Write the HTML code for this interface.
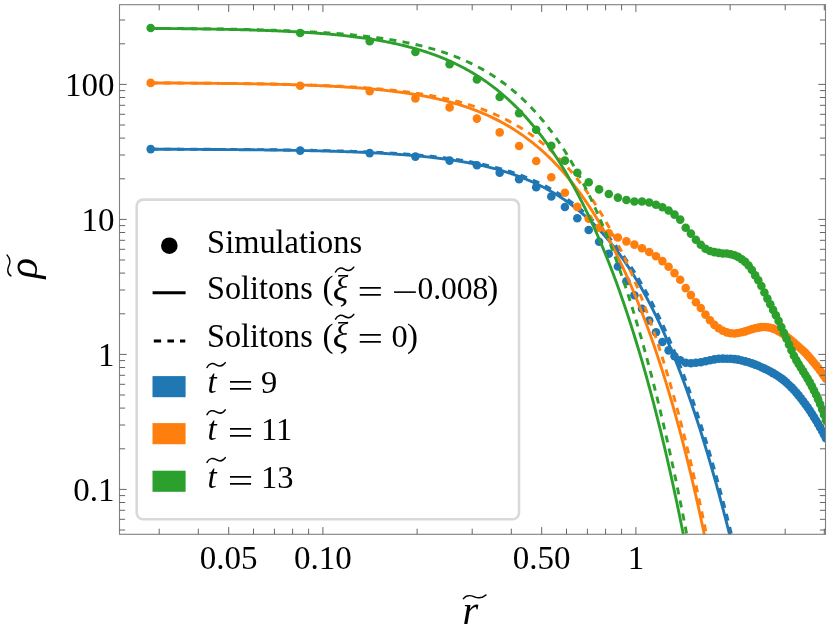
<!DOCTYPE html>
<html><head><meta charset="utf-8"><title>chart</title>
<style>html,body{margin:0;padding:0;background:#fff;}body{width:830px;height:641px;overflow:hidden;font-family:"Liberation Serif",serif;}svg{display:block;}</style></head>
<body>
<svg width="830" height="641" viewBox="0 0 830 641" font-family="'Liberation Serif', serif" style="will-change:transform">
<rect width="830" height="641" fill="#fff"/>
<defs><clipPath id="cp"><rect x="119.5" y="4.7" width="706.0" height="529.5999999999999"/></clipPath></defs>
<g clip-path="url(#cp)">
<g fill="#1f77b4"><circle cx="150.7" cy="149.1" r="4.3"/><circle cx="300.2" cy="150.6" r="4.3"/><circle cx="369.7" cy="153.1" r="4.3"/><circle cx="415.4" cy="156.6" r="4.3"/><circle cx="449.6" cy="160.6" r="4.3"/><circle cx="476.9" cy="165.3" r="4.3"/><circle cx="499.7" cy="172.7" r="4.3"/><circle cx="519.1" cy="179.2" r="4.3"/><circle cx="536.2" cy="187.3" r="4.3"/><circle cx="551.3" cy="196.5" r="4.3"/><circle cx="564.9" cy="207.0" r="4.3"/><circle cx="577.3" cy="218.3" r="4.3"/><circle cx="588.7" cy="230.0" r="4.3"/><circle cx="599.1" cy="241.8" r="4.3"/><circle cx="608.8" cy="253.8" r="4.3"/><circle cx="617.9" cy="266.5" r="4.3"/><circle cx="626.4" cy="281.2" r="4.3"/><circle cx="634.4" cy="295.2" r="4.3"/><circle cx="642.0" cy="308.7" r="4.3"/><circle cx="649.2" cy="320.5" r="4.3"/><circle cx="656.0" cy="332.2" r="4.3"/><circle cx="662.4" cy="342.0" r="4.3"/><circle cx="668.6" cy="350.4" r="4.3"/><circle cx="674.5" cy="356.2" r="4.3"/><circle cx="680.2" cy="360.2" r="4.3"/><circle cx="685.7" cy="362.7" r="4.3"/><circle cx="690.9" cy="363.2" r="4.3"/><circle cx="695.9" cy="362.8" r="4.3"/><circle cx="700.8" cy="362.2" r="4.3"/><circle cx="705.5" cy="361.2" r="4.3"/><circle cx="710.0" cy="360.2" r="4.3"/><circle cx="714.4" cy="359.4" r="4.3"/><circle cx="718.7" cy="358.8" r="4.3"/><circle cx="722.8" cy="358.6" r="4.3"/><circle cx="726.8" cy="358.7" r="4.3"/><circle cx="730.7" cy="358.8" r="4.3"/><circle cx="734.5" cy="359.1" r="4.3"/><circle cx="738.1" cy="359.6" r="4.3"/><circle cx="741.7" cy="360.5" r="4.3"/><circle cx="745.2" cy="361.4" r="4.3"/><circle cx="748.6" cy="362.3" r="4.3"/><circle cx="751.9" cy="363.4" r="4.3"/><circle cx="755.2" cy="364.6" r="4.3"/><circle cx="758.3" cy="365.8" r="4.3"/><circle cx="761.4" cy="367.2" r="4.3"/><circle cx="764.4" cy="368.6" r="4.3"/><circle cx="767.4" cy="370.0" r="4.3"/><circle cx="770.3" cy="371.5" r="4.3"/><circle cx="773.1" cy="373.1" r="4.3"/><circle cx="775.9" cy="374.7" r="4.3"/><circle cx="778.6" cy="376.5" r="4.3"/><circle cx="781.3" cy="378.4" r="4.3"/><circle cx="783.9" cy="380.4" r="4.3"/><circle cx="786.5" cy="382.6" r="4.3"/><circle cx="789.0" cy="385.0" r="4.3"/><circle cx="791.5" cy="387.4" r="4.3"/><circle cx="793.9" cy="389.9" r="4.3"/><circle cx="796.3" cy="392.6" r="4.3"/><circle cx="798.6" cy="395.4" r="4.3"/><circle cx="800.9" cy="398.3" r="4.3"/><circle cx="803.2" cy="401.2" r="4.3"/><circle cx="805.4" cy="404.2" r="4.3"/><circle cx="807.6" cy="407.3" r="4.3"/><circle cx="809.8" cy="410.5" r="4.3"/><circle cx="811.9" cy="413.8" r="4.3"/><circle cx="814.0" cy="417.1" r="4.3"/><circle cx="816.1" cy="420.5" r="4.3"/><circle cx="818.1" cy="423.9" r="4.3"/><circle cx="820.1" cy="427.4" r="4.3"/><circle cx="822.1" cy="430.9" r="4.3"/><circle cx="824.0" cy="434.5" r="4.3"/><circle cx="825.9" cy="438.2" r="4.3"/></g>
<path d="M150.5,149.13 L151.5,149.13 L152.5,149.13 L153.5,149.13 L154.5,149.13 L155.5,149.14 L156.5,149.14 L157.5,149.14 L158.5,149.14 L159.5,149.14 L160.5,149.15 L161.5,149.15 L162.5,149.15 L163.5,149.15 L164.5,149.15 L165.5,149.16 L166.5,149.16 L167.5,149.16 L168.5,149.16 L169.5,149.17 L170.5,149.17 L171.5,149.17 L172.5,149.17 L173.5,149.18 L174.5,149.18 L175.5,149.18 L176.5,149.18 L177.5,149.19 L178.5,149.19 L179.5,149.19 L180.5,149.19 L181.5,149.20 L182.5,149.20 L183.5,149.20 L184.5,149.21 L185.5,149.21 L186.5,149.21 L187.5,149.22 L188.5,149.22 L189.5,149.22 L190.5,149.22 L191.5,149.23 L192.5,149.23 L193.5,149.23 L194.5,149.24 L195.5,149.24 L196.5,149.24 L197.5,149.25 L198.5,149.25 L199.5,149.26 L200.5,149.26 L201.5,149.26 L202.5,149.27 L203.5,149.27 L204.5,149.27 L205.5,149.28 L206.5,149.28 L207.5,149.29 L208.5,149.29 L209.5,149.30 L210.5,149.30 L211.5,149.30 L212.5,149.31 L213.5,149.31 L214.5,149.32 L215.5,149.32 L216.5,149.33 L217.5,149.33 L218.5,149.34 L219.5,149.34 L220.5,149.35 L221.5,149.35 L222.5,149.36 L223.5,149.36 L224.5,149.37 L225.5,149.37 L226.5,149.38 L227.5,149.38 L228.5,149.39 L229.5,149.39 L230.5,149.40 L231.5,149.41 L232.5,149.41 L233.5,149.42 L234.5,149.42 L235.5,149.43 L236.5,149.44 L237.5,149.44 L238.5,149.45 L239.5,149.46 L240.5,149.46 L241.5,149.47 L242.5,149.48 L243.5,149.48 L244.5,149.49 L245.5,149.50 L246.5,149.50 L247.5,149.51 L248.5,149.52 L249.5,149.53 L250.5,149.53 L251.5,149.54 L252.5,149.55 L253.5,149.56 L254.5,149.57 L255.5,149.57 L256.5,149.58 L257.5,149.59 L258.5,149.60 L259.5,149.61 L260.5,149.62 L261.5,149.63 L262.5,149.64 L263.5,149.65 L264.5,149.65 L265.5,149.66 L266.5,149.67 L267.5,149.68 L268.5,149.69 L269.5,149.70 L270.5,149.71 L271.5,149.72 L272.5,149.74 L273.5,149.75 L274.5,149.76 L275.5,149.77 L276.5,149.78 L277.5,149.79 L278.5,149.80 L279.5,149.81 L280.5,149.83 L281.5,149.84 L282.5,149.85 L283.5,149.86 L284.5,149.87 L285.5,149.89 L286.5,149.90 L287.5,149.91 L288.5,149.93 L289.5,149.94 L290.5,149.95 L291.5,149.97 L292.5,149.98 L293.5,150.00 L294.5,150.01 L295.5,150.03 L296.5,150.04 L297.5,150.06 L298.5,150.07 L299.5,150.09 L300.5,150.10 L301.5,150.12 L302.5,150.13 L303.5,150.15 L304.5,150.17 L305.5,150.18 L306.5,150.20 L307.5,150.22 L308.5,150.24 L309.5,150.26 L310.5,150.27 L311.5,150.29 L312.5,150.31 L313.5,150.33 L314.5,150.35 L315.5,150.37 L316.5,150.39 L317.5,150.41 L318.5,150.43 L319.5,150.45 L320.5,150.47 L321.5,150.49 L322.5,150.52 L323.5,150.54 L324.5,150.56 L325.5,150.58 L326.5,150.61 L327.5,150.63 L328.5,150.65 L329.5,150.68 L330.5,150.70 L331.5,150.73 L332.5,150.75 L333.5,150.78 L334.5,150.80 L335.5,150.83 L336.5,150.86 L337.5,150.88 L338.5,150.91 L339.5,150.94 L340.5,150.97 L341.5,150.99 L342.5,151.02 L343.5,151.05 L344.5,151.08 L345.5,151.11 L346.5,151.14 L347.5,151.18 L348.5,151.21 L349.5,151.24 L350.5,151.27 L351.5,151.30 L352.5,151.34 L353.5,151.37 L354.5,151.41 L355.5,151.44 L356.5,151.48 L357.5,151.51 L358.5,151.55 L359.5,151.59 L360.5,151.62 L361.5,151.66 L362.5,151.70 L363.5,151.74 L364.5,151.78 L365.5,151.82 L366.5,151.86 L367.5,151.90 L368.5,151.95 L369.5,151.99 L370.5,152.03 L371.5,152.08 L372.5,152.12 L373.5,152.17 L374.5,152.21 L375.5,152.26 L376.5,152.31 L377.5,152.36 L378.5,152.40 L379.5,152.45 L380.5,152.50 L381.5,152.56 L382.5,152.61 L383.5,152.66 L384.5,152.71 L385.5,152.77 L386.5,152.82 L387.5,152.88 L388.5,152.93 L389.5,152.99 L390.5,153.05 L391.5,153.11 L392.5,153.17 L393.5,153.23 L394.5,153.29 L395.5,153.35 L396.5,153.41 L397.5,153.48 L398.5,153.54 L399.5,153.61 L400.5,153.68 L401.5,153.74 L402.5,153.81 L403.5,153.88 L404.5,153.95 L405.5,154.03 L406.5,154.10 L407.5,154.17 L408.5,154.25 L409.5,154.33 L410.5,154.40 L411.5,154.48 L412.5,154.56 L413.5,154.64 L414.5,154.72 L415.5,154.81 L416.5,154.89 L417.5,154.98 L418.5,155.06 L419.5,155.15 L420.5,155.24 L421.5,155.33 L422.5,155.42 L423.5,155.52 L424.5,155.61 L425.5,155.71 L426.5,155.80 L427.5,155.90 L428.5,156.00 L429.5,156.10 L430.5,156.21 L431.5,156.31 L432.5,156.42 L433.5,156.52 L434.5,156.63 L435.5,156.74 L436.5,156.86 L437.5,156.97 L438.5,157.09 L439.5,157.20 L440.5,157.32 L441.5,157.44 L442.5,157.56 L443.5,157.69 L444.5,157.81 L445.5,157.94 L446.5,158.07 L447.5,158.20 L448.5,158.34 L449.5,158.47 L450.5,158.61 L451.5,158.75 L452.5,158.89 L453.5,159.03 L454.5,159.18 L455.5,159.32 L456.5,159.47 L457.5,159.62 L458.5,159.78 L459.5,159.93 L460.5,160.09 L461.5,160.25 L462.5,160.41 L463.5,160.58 L464.5,160.75 L465.5,160.91 L466.5,161.09 L467.5,161.26 L468.5,161.44 L469.5,161.62 L470.5,161.80 L471.5,161.98 L472.5,162.17 L473.5,162.36 L474.5,162.55 L475.5,162.75 L476.5,162.95 L477.5,163.15 L478.5,163.35 L479.5,163.56 L480.5,163.77 L481.5,163.98 L482.5,164.20 L483.5,164.41 L484.5,164.64 L485.5,164.86 L486.5,165.09 L487.5,165.32 L488.5,165.55 L489.5,165.79 L490.5,166.03 L491.5,166.28 L492.5,166.53 L493.5,166.78 L494.5,167.03 L495.5,167.29 L496.5,167.55 L497.5,167.82 L498.5,168.09 L499.5,168.36 L500.5,168.64 L501.5,168.92 L502.5,169.21 L503.5,169.49 L504.5,169.79 L505.5,170.08 L506.5,170.39 L507.5,170.69 L508.5,171.00 L509.5,171.32 L510.5,171.63 L511.5,171.96 L512.5,172.29 L513.5,172.62 L514.5,172.95 L515.5,173.30 L516.5,173.64 L517.5,173.99 L518.5,174.35 L519.5,174.71 L520.5,175.08 L521.5,175.45 L522.5,175.82 L523.5,176.20 L524.5,176.59 L525.5,176.98 L526.5,177.38 L527.5,177.78 L528.5,178.19 L529.5,178.60 L530.5,179.02 L531.5,179.45 L532.5,179.88 L533.5,180.32 L534.5,180.76 L535.5,181.21 L536.5,181.66 L537.5,182.13 L538.5,182.59 L539.5,183.07 L540.5,183.55 L541.5,184.04 L542.5,184.53 L543.5,185.03 L544.5,185.54 L545.5,186.05 L546.5,186.57 L547.5,187.10 L548.5,187.64 L549.5,188.18 L550.5,188.73 L551.5,189.28 L552.5,189.85 L553.5,190.42 L554.5,191.00 L555.5,191.59 L556.5,192.18 L557.5,192.79 L558.5,193.40 L559.5,194.02 L560.5,194.65 L561.5,195.28 L562.5,195.93 L563.5,196.58 L564.5,197.24 L565.5,197.91 L566.5,198.59 L567.5,199.28 L568.5,199.98 L569.5,200.69 L570.5,201.40 L571.5,202.13 L572.5,202.86 L573.5,203.61 L574.5,204.36 L575.5,205.13 L576.5,205.90 L577.5,206.68 L578.5,207.48 L579.5,208.28 L580.5,209.10 L581.5,209.92 L582.5,210.76 L583.5,211.61 L584.5,212.46 L585.5,213.33 L586.5,214.21 L587.5,215.10 L588.5,216.01 L589.5,216.92 L590.5,217.85 L591.5,218.78 L592.5,219.73 L593.5,220.69 L594.5,221.67 L595.5,222.65 L596.5,223.65 L597.5,224.66 L598.5,225.68 L599.5,226.72 L600.5,227.77 L601.5,228.83 L602.5,229.91 L603.5,230.99 L604.5,232.10 L605.5,233.21 L606.5,234.34 L607.5,235.48 L608.5,236.64 L609.5,237.81 L610.5,239.00 L611.5,240.20 L612.5,241.41 L613.5,242.64 L614.5,243.89 L615.5,245.15 L616.5,246.42 L617.5,247.71 L618.5,249.01 L619.5,250.34 L620.5,251.67 L621.5,253.02 L622.5,254.39 L623.5,255.78 L624.5,257.18 L625.5,258.60 L626.5,260.03 L627.5,261.48 L628.5,262.95 L629.5,264.43 L630.5,265.93 L631.5,267.45 L632.5,268.99 L633.5,270.55 L634.5,272.12 L635.5,273.71 L636.5,275.32 L637.5,276.95 L638.5,278.59 L639.5,280.25 L640.5,281.94 L641.5,283.64 L642.5,285.36 L643.5,287.10 L644.5,288.86 L645.5,290.64 L646.5,292.44 L647.5,294.26 L648.5,296.10 L649.5,297.96 L650.5,299.84 L651.5,301.74 L652.5,303.66 L653.5,305.60 L654.5,307.56 L655.5,309.55 L656.5,311.55 L657.5,313.58 L658.5,315.63 L659.5,317.70 L660.5,319.79 L661.5,321.90 L662.5,324.04 L663.5,326.20 L664.5,328.38 L665.5,330.58 L666.5,332.81 L667.5,335.06 L668.5,337.33 L669.5,339.63 L670.5,341.95 L671.5,344.30 L672.5,346.66 L673.5,349.06 L674.5,351.47 L675.5,353.91 L676.5,356.38 L677.5,358.87 L678.5,361.38 L679.5,363.92 L680.5,366.49 L681.5,369.08 L682.5,371.69 L683.5,374.33 L684.5,377.00 L685.5,379.69 L686.5,382.41 L687.5,385.16 L688.5,387.93 L689.5,390.73 L690.5,393.55 L691.5,396.41 L692.5,399.29 L693.5,402.19 L694.5,405.13 L695.5,408.09 L696.5,411.08 L697.5,414.09 L698.5,417.14 L699.5,420.21 L700.5,423.31 L701.5,426.44 L702.5,429.60 L703.5,432.79 L704.5,436.01 L705.5,439.25 L706.5,442.53 L707.5,445.83 L708.5,449.16 L709.5,452.53 L710.5,455.92 L711.5,459.35 L712.5,462.80 L713.5,466.29 L714.5,469.80 L715.5,473.35 L716.5,476.93 L717.5,480.53 L718.5,484.17 L719.5,487.85 L720.5,491.55 L721.5,495.28 L722.5,499.05 L723.5,502.85 L724.5,506.68 L725.5,510.55 L726.5,514.44 L727.5,518.37 L728.5,522.34 L729.5,526.33 L730.5,530.36 L731.5,534.43 L732.5,538.52" fill="none" stroke="#1f77b4" stroke-width="2.9" stroke-dasharray="7 6.3" stroke-linejoin="round"/>
<path d="M150.5,149.23 L151.5,149.23 L152.5,149.23 L153.5,149.24 L154.5,149.24 L155.5,149.24 L156.5,149.25 L157.5,149.25 L158.5,149.25 L159.5,149.25 L160.5,149.26 L161.5,149.26 L162.5,149.26 L163.5,149.27 L164.5,149.27 L165.5,149.27 L166.5,149.28 L167.5,149.28 L168.5,149.28 L169.5,149.29 L170.5,149.29 L171.5,149.29 L172.5,149.30 L173.5,149.30 L174.5,149.31 L175.5,149.31 L176.5,149.31 L177.5,149.32 L178.5,149.32 L179.5,149.32 L180.5,149.33 L181.5,149.33 L182.5,149.34 L183.5,149.34 L184.5,149.34 L185.5,149.35 L186.5,149.35 L187.5,149.36 L188.5,149.36 L189.5,149.37 L190.5,149.37 L191.5,149.38 L192.5,149.38 L193.5,149.38 L194.5,149.39 L195.5,149.39 L196.5,149.40 L197.5,149.40 L198.5,149.41 L199.5,149.41 L200.5,149.42 L201.5,149.42 L202.5,149.43 L203.5,149.44 L204.5,149.44 L205.5,149.45 L206.5,149.45 L207.5,149.46 L208.5,149.46 L209.5,149.47 L210.5,149.47 L211.5,149.48 L212.5,149.49 L213.5,149.49 L214.5,149.50 L215.5,149.50 L216.5,149.51 L217.5,149.52 L218.5,149.52 L219.5,149.53 L220.5,149.54 L221.5,149.54 L222.5,149.55 L223.5,149.56 L224.5,149.56 L225.5,149.57 L226.5,149.58 L227.5,149.59 L228.5,149.59 L229.5,149.60 L230.5,149.61 L231.5,149.62 L232.5,149.62 L233.5,149.63 L234.5,149.64 L235.5,149.65 L236.5,149.66 L237.5,149.66 L238.5,149.67 L239.5,149.68 L240.5,149.69 L241.5,149.70 L242.5,149.71 L243.5,149.72 L244.5,149.72 L245.5,149.73 L246.5,149.74 L247.5,149.75 L248.5,149.76 L249.5,149.77 L250.5,149.78 L251.5,149.79 L252.5,149.80 L253.5,149.81 L254.5,149.82 L255.5,149.83 L256.5,149.84 L257.5,149.85 L258.5,149.86 L259.5,149.88 L260.5,149.89 L261.5,149.90 L262.5,149.91 L263.5,149.92 L264.5,149.93 L265.5,149.95 L266.5,149.96 L267.5,149.97 L268.5,149.98 L269.5,149.99 L270.5,150.01 L271.5,150.02 L272.5,150.03 L273.5,150.05 L274.5,150.06 L275.5,150.07 L276.5,150.09 L277.5,150.10 L278.5,150.12 L279.5,150.13 L280.5,150.14 L281.5,150.16 L282.5,150.17 L283.5,150.19 L284.5,150.20 L285.5,150.22 L286.5,150.24 L287.5,150.25 L288.5,150.27 L289.5,150.28 L290.5,150.30 L291.5,150.32 L292.5,150.33 L293.5,150.35 L294.5,150.37 L295.5,150.39 L296.5,150.40 L297.5,150.42 L298.5,150.44 L299.5,150.46 L300.5,150.48 L301.5,150.50 L302.5,150.52 L303.5,150.54 L304.5,150.56 L305.5,150.58 L306.5,150.60 L307.5,150.62 L308.5,150.64 L309.5,150.66 L310.5,150.68 L311.5,150.71 L312.5,150.73 L313.5,150.75 L314.5,150.77 L315.5,150.80 L316.5,150.82 L317.5,150.84 L318.5,150.87 L319.5,150.89 L320.5,150.92 L321.5,150.94 L322.5,150.97 L323.5,150.99 L324.5,151.02 L325.5,151.05 L326.5,151.07 L327.5,151.10 L328.5,151.13 L329.5,151.16 L330.5,151.18 L331.5,151.21 L332.5,151.24 L333.5,151.27 L334.5,151.30 L335.5,151.33 L336.5,151.36 L337.5,151.39 L338.5,151.42 L339.5,151.46 L340.5,151.49 L341.5,151.52 L342.5,151.55 L343.5,151.59 L344.5,151.62 L345.5,151.66 L346.5,151.69 L347.5,151.73 L348.5,151.76 L349.5,151.80 L350.5,151.84 L351.5,151.88 L352.5,151.91 L353.5,151.95 L354.5,151.99 L355.5,152.03 L356.5,152.07 L357.5,152.11 L358.5,152.15 L359.5,152.20 L360.5,152.24 L361.5,152.28 L362.5,152.32 L363.5,152.37 L364.5,152.41 L365.5,152.46 L366.5,152.51 L367.5,152.55 L368.5,152.60 L369.5,152.65 L370.5,152.70 L371.5,152.75 L372.5,152.80 L373.5,152.85 L374.5,152.90 L375.5,152.95 L376.5,153.00 L377.5,153.06 L378.5,153.11 L379.5,153.17 L380.5,153.22 L381.5,153.28 L382.5,153.34 L383.5,153.39 L384.5,153.45 L385.5,153.51 L386.5,153.57 L387.5,153.63 L388.5,153.70 L389.5,153.76 L390.5,153.82 L391.5,153.89 L392.5,153.95 L393.5,154.02 L394.5,154.09 L395.5,154.16 L396.5,154.23 L397.5,154.30 L398.5,154.37 L399.5,154.44 L400.5,154.51 L401.5,154.59 L402.5,154.66 L403.5,154.74 L404.5,154.82 L405.5,154.89 L406.5,154.97 L407.5,155.05 L408.5,155.14 L409.5,155.22 L410.5,155.30 L411.5,155.39 L412.5,155.47 L413.5,155.56 L414.5,155.65 L415.5,155.74 L416.5,155.83 L417.5,155.93 L418.5,156.02 L419.5,156.11 L420.5,156.21 L421.5,156.31 L422.5,156.41 L423.5,156.51 L424.5,156.61 L425.5,156.71 L426.5,156.82 L427.5,156.92 L428.5,157.03 L429.5,157.14 L430.5,157.25 L431.5,157.36 L432.5,157.48 L433.5,157.59 L434.5,157.71 L435.5,157.83 L436.5,157.95 L437.5,158.07 L438.5,158.19 L439.5,158.32 L440.5,158.44 L441.5,158.57 L442.5,158.70 L443.5,158.83 L444.5,158.97 L445.5,159.10 L446.5,159.24 L447.5,159.38 L448.5,159.52 L449.5,159.67 L450.5,159.81 L451.5,159.96 L452.5,160.11 L453.5,160.26 L454.5,160.41 L455.5,160.57 L456.5,160.73 L457.5,160.89 L458.5,161.05 L459.5,161.22 L460.5,161.38 L461.5,161.55 L462.5,161.72 L463.5,161.90 L464.5,162.07 L465.5,162.25 L466.5,162.43 L467.5,162.62 L468.5,162.80 L469.5,162.99 L470.5,163.18 L471.5,163.38 L472.5,163.57 L473.5,163.77 L474.5,163.98 L475.5,164.18 L476.5,164.39 L477.5,164.60 L478.5,164.81 L479.5,165.03 L480.5,165.25 L481.5,165.47 L482.5,165.70 L483.5,165.93 L484.5,166.16 L485.5,166.39 L486.5,166.63 L487.5,166.87 L488.5,167.12 L489.5,167.37 L490.5,167.62 L491.5,167.87 L492.5,168.13 L493.5,168.39 L494.5,168.66 L495.5,168.93 L496.5,169.20 L497.5,169.48 L498.5,169.76 L499.5,170.04 L500.5,170.33 L501.5,170.63 L502.5,170.92 L503.5,171.22 L504.5,171.53 L505.5,171.84 L506.5,172.15 L507.5,172.47 L508.5,172.79 L509.5,173.11 L510.5,173.44 L511.5,173.78 L512.5,174.12 L513.5,174.46 L514.5,174.81 L515.5,175.16 L516.5,175.52 L517.5,175.89 L518.5,176.25 L519.5,176.63 L520.5,177.01 L521.5,177.39 L522.5,177.78 L523.5,178.17 L524.5,178.57 L525.5,178.98 L526.5,179.39 L527.5,179.80 L528.5,180.22 L529.5,180.65 L530.5,181.08 L531.5,181.52 L532.5,181.97 L533.5,182.42 L534.5,182.87 L535.5,183.34 L536.5,183.81 L537.5,184.28 L538.5,184.76 L539.5,185.25 L540.5,185.75 L541.5,186.25 L542.5,186.76 L543.5,187.27 L544.5,187.79 L545.5,188.32 L546.5,188.86 L547.5,189.40 L548.5,189.95 L549.5,190.51 L550.5,191.07 L551.5,191.65 L552.5,192.23 L553.5,192.82 L554.5,193.41 L555.5,194.02 L556.5,194.63 L557.5,195.25 L558.5,195.87 L559.5,196.51 L560.5,197.16 L561.5,197.81 L562.5,198.47 L563.5,199.14 L564.5,199.82 L565.5,200.51 L566.5,201.21 L567.5,201.91 L568.5,202.63 L569.5,203.35 L570.5,204.09 L571.5,204.83 L572.5,205.58 L573.5,206.35 L574.5,207.12 L575.5,207.90 L576.5,208.70 L577.5,209.50 L578.5,210.32 L579.5,211.14 L580.5,211.98 L581.5,212.82 L582.5,213.68 L583.5,214.55 L584.5,215.43 L585.5,216.32 L586.5,217.22 L587.5,218.13 L588.5,219.05 L589.5,219.99 L590.5,220.94 L591.5,221.90 L592.5,222.87 L593.5,223.86 L594.5,224.85 L595.5,225.86 L596.5,226.88 L597.5,227.92 L598.5,228.97 L599.5,230.03 L600.5,231.10 L601.5,232.19 L602.5,233.29 L603.5,234.41 L604.5,235.53 L605.5,236.68 L606.5,237.83 L607.5,239.00 L608.5,240.19 L609.5,241.39 L610.5,242.60 L611.5,243.83 L612.5,245.08 L613.5,246.34 L614.5,247.61 L615.5,248.90 L616.5,250.20 L617.5,251.53 L618.5,252.86 L619.5,254.22 L620.5,255.58 L621.5,256.97 L622.5,258.37 L623.5,259.79 L624.5,261.22 L625.5,262.68 L626.5,264.14 L627.5,265.63 L628.5,267.13 L629.5,268.66 L630.5,270.19 L631.5,271.75 L632.5,273.33 L633.5,274.92 L634.5,276.53 L635.5,278.16 L636.5,279.81 L637.5,281.47 L638.5,283.16 L639.5,284.86 L640.5,286.59 L641.5,288.33 L642.5,290.10 L643.5,291.88 L644.5,293.68 L645.5,295.50 L646.5,297.35 L647.5,299.21 L648.5,301.09 L649.5,303.00 L650.5,304.92 L651.5,306.87 L652.5,308.84 L653.5,310.83 L654.5,312.84 L655.5,314.87 L656.5,316.92 L657.5,319.00 L658.5,321.09 L659.5,323.21 L660.5,325.36 L661.5,327.52 L662.5,329.71 L663.5,331.92 L664.5,334.15 L665.5,336.40 L666.5,338.68 L667.5,340.99 L668.5,343.31 L669.5,345.66 L670.5,348.03 L671.5,350.43 L672.5,352.85 L673.5,355.30 L674.5,357.76 L675.5,360.26 L676.5,362.78 L677.5,365.32 L678.5,367.89 L679.5,370.48 L680.5,373.10 L681.5,375.74 L682.5,378.41 L683.5,381.10 L684.5,383.82 L685.5,386.57 L686.5,389.34 L687.5,392.13 L688.5,394.96 L689.5,397.80 L690.5,400.68 L691.5,403.58 L692.5,406.51 L693.5,409.46 L694.5,412.44 L695.5,415.45 L696.5,418.48 L697.5,421.54 L698.5,424.63 L699.5,427.75 L700.5,430.89 L701.5,434.06 L702.5,437.26 L703.5,440.48 L704.5,443.73 L705.5,447.01 L706.5,450.32 L707.5,453.65 L708.5,457.01 L709.5,460.40 L710.5,463.82 L711.5,467.27 L712.5,470.74 L713.5,474.24 L714.5,477.77 L715.5,481.33 L716.5,484.92 L717.5,488.53 L718.5,492.18 L719.5,495.85 L720.5,499.55 L721.5,503.28 L722.5,507.03 L723.5,510.82 L724.5,514.63 L725.5,518.48 L726.5,522.35 L727.5,526.25 L728.5,530.17 L729.5,534.13 L730.5,538.12" fill="none" stroke="#1f77b4" stroke-width="2.9" stroke-linejoin="round"/>
<g fill="#ff7f0e"><circle cx="150.7" cy="82.9" r="4.3"/><circle cx="300.2" cy="85.7" r="4.3"/><circle cx="369.7" cy="91.1" r="4.3"/><circle cx="415.4" cy="98.4" r="4.3"/><circle cx="449.6" cy="107.4" r="4.3"/><circle cx="476.9" cy="118.6" r="4.3"/><circle cx="499.7" cy="132.4" r="4.3"/><circle cx="519.1" cy="146.0" r="4.3"/><circle cx="536.2" cy="161.0" r="4.3"/><circle cx="551.3" cy="177.2" r="4.3"/><circle cx="564.9" cy="192.7" r="4.3"/><circle cx="577.3" cy="206.9" r="4.3"/><circle cx="588.7" cy="218.6" r="4.3"/><circle cx="599.1" cy="227.7" r="4.3"/><circle cx="608.8" cy="233.4" r="4.3"/><circle cx="617.9" cy="237.5" r="4.3"/><circle cx="626.4" cy="241.4" r="4.3"/><circle cx="634.4" cy="244.6" r="4.3"/><circle cx="642.0" cy="248.2" r="4.3"/><circle cx="649.2" cy="252.0" r="4.3"/><circle cx="656.0" cy="256.2" r="4.3"/><circle cx="662.4" cy="261.1" r="4.3"/><circle cx="668.6" cy="266.8" r="4.3"/><circle cx="674.5" cy="273.1" r="4.3"/><circle cx="680.2" cy="279.8" r="4.3"/><circle cx="685.7" cy="288.1" r="4.3"/><circle cx="690.9" cy="295.1" r="4.3"/><circle cx="695.9" cy="302.2" r="4.3"/><circle cx="700.8" cy="308.0" r="4.3"/><circle cx="705.5" cy="314.6" r="4.3"/><circle cx="710.0" cy="320.2" r="4.3"/><circle cx="714.4" cy="324.9" r="4.3"/><circle cx="718.7" cy="328.3" r="4.3"/><circle cx="722.8" cy="330.7" r="4.3"/><circle cx="726.8" cy="332.4" r="4.3"/><circle cx="730.7" cy="333.2" r="4.3"/><circle cx="734.5" cy="333.5" r="4.3"/><circle cx="738.1" cy="333.0" r="4.3"/><circle cx="741.7" cy="332.3" r="4.3"/><circle cx="745.2" cy="331.4" r="4.3"/><circle cx="748.6" cy="330.2" r="4.3"/><circle cx="751.9" cy="329.1" r="4.3"/><circle cx="755.2" cy="328.3" r="4.3"/><circle cx="758.3" cy="327.6" r="4.3"/><circle cx="761.4" cy="327.1" r="4.3"/><circle cx="764.4" cy="327.0" r="4.3"/><circle cx="767.4" cy="327.3" r="4.3"/><circle cx="770.3" cy="327.7" r="4.3"/><circle cx="773.1" cy="328.6" r="4.3"/><circle cx="775.9" cy="329.7" r="4.3"/><circle cx="778.6" cy="331.1" r="4.3"/><circle cx="781.3" cy="332.7" r="4.3"/><circle cx="783.9" cy="334.6" r="4.3"/><circle cx="786.5" cy="336.5" r="4.3"/><circle cx="789.0" cy="338.5" r="4.3"/><circle cx="791.5" cy="340.5" r="4.3"/><circle cx="793.9" cy="342.6" r="4.3"/><circle cx="796.3" cy="344.8" r="4.3"/><circle cx="798.6" cy="346.8" r="4.3"/><circle cx="800.9" cy="348.8" r="4.3"/><circle cx="803.2" cy="350.8" r="4.3"/><circle cx="805.4" cy="352.9" r="4.3"/><circle cx="807.6" cy="355.3" r="4.3"/><circle cx="809.8" cy="357.7" r="4.3"/><circle cx="811.9" cy="360.2" r="4.3"/><circle cx="814.0" cy="362.7" r="4.3"/><circle cx="816.1" cy="365.2" r="4.3"/><circle cx="818.1" cy="367.8" r="4.3"/><circle cx="820.1" cy="370.4" r="4.3"/><circle cx="822.1" cy="373.1" r="4.3"/><circle cx="824.0" cy="375.9" r="4.3"/><circle cx="825.9" cy="378.7" r="4.3"/></g>
<path d="M150.5,82.94 L151.5,82.94 L152.5,82.94 L153.5,82.95 L154.5,82.95 L155.5,82.96 L156.5,82.96 L157.5,82.96 L158.5,82.97 L159.5,82.97 L160.5,82.97 L161.5,82.98 L162.5,82.98 L163.5,82.99 L164.5,82.99 L165.5,82.99 L166.5,83.00 L167.5,83.00 L168.5,83.01 L169.5,83.01 L170.5,83.02 L171.5,83.02 L172.5,83.03 L173.5,83.03 L174.5,83.03 L175.5,83.04 L176.5,83.04 L177.5,83.05 L178.5,83.05 L179.5,83.06 L180.5,83.06 L181.5,83.07 L182.5,83.08 L183.5,83.08 L184.5,83.09 L185.5,83.09 L186.5,83.10 L187.5,83.10 L188.5,83.11 L189.5,83.11 L190.5,83.12 L191.5,83.13 L192.5,83.13 L193.5,83.14 L194.5,83.15 L195.5,83.15 L196.5,83.16 L197.5,83.16 L198.5,83.17 L199.5,83.18 L200.5,83.19 L201.5,83.19 L202.5,83.20 L203.5,83.21 L204.5,83.21 L205.5,83.22 L206.5,83.23 L207.5,83.24 L208.5,83.24 L209.5,83.25 L210.5,83.26 L211.5,83.27 L212.5,83.28 L213.5,83.28 L214.5,83.29 L215.5,83.30 L216.5,83.31 L217.5,83.32 L218.5,83.33 L219.5,83.34 L220.5,83.35 L221.5,83.35 L222.5,83.36 L223.5,83.37 L224.5,83.38 L225.5,83.39 L226.5,83.40 L227.5,83.41 L228.5,83.42 L229.5,83.43 L230.5,83.44 L231.5,83.46 L232.5,83.47 L233.5,83.48 L234.5,83.49 L235.5,83.50 L236.5,83.51 L237.5,83.52 L238.5,83.53 L239.5,83.55 L240.5,83.56 L241.5,83.57 L242.5,83.58 L243.5,83.60 L244.5,83.61 L245.5,83.62 L246.5,83.64 L247.5,83.65 L248.5,83.66 L249.5,83.68 L250.5,83.69 L251.5,83.70 L252.5,83.72 L253.5,83.73 L254.5,83.75 L255.5,83.76 L256.5,83.78 L257.5,83.79 L258.5,83.81 L259.5,83.83 L260.5,83.84 L261.5,83.86 L262.5,83.87 L263.5,83.89 L264.5,83.91 L265.5,83.93 L266.5,83.94 L267.5,83.96 L268.5,83.98 L269.5,84.00 L270.5,84.02 L271.5,84.04 L272.5,84.05 L273.5,84.07 L274.5,84.09 L275.5,84.11 L276.5,84.13 L277.5,84.16 L278.5,84.18 L279.5,84.20 L280.5,84.22 L281.5,84.24 L282.5,84.26 L283.5,84.29 L284.5,84.31 L285.5,84.33 L286.5,84.35 L287.5,84.38 L288.5,84.40 L289.5,84.43 L290.5,84.45 L291.5,84.48 L292.5,84.50 L293.5,84.53 L294.5,84.55 L295.5,84.58 L296.5,84.61 L297.5,84.64 L298.5,84.66 L299.5,84.69 L300.5,84.72 L301.5,84.75 L302.5,84.78 L303.5,84.81 L304.5,84.84 L305.5,84.87 L306.5,84.90 L307.5,84.93 L308.5,84.96 L309.5,85.00 L310.5,85.03 L311.5,85.06 L312.5,85.10 L313.5,85.13 L314.5,85.17 L315.5,85.20 L316.5,85.24 L317.5,85.27 L318.5,85.31 L319.5,85.35 L320.5,85.39 L321.5,85.43 L322.5,85.46 L323.5,85.50 L324.5,85.54 L325.5,85.59 L326.5,85.63 L327.5,85.67 L328.5,85.71 L329.5,85.75 L330.5,85.80 L331.5,85.84 L332.5,85.89 L333.5,85.93 L334.5,85.98 L335.5,86.03 L336.5,86.07 L337.5,86.12 L338.5,86.17 L339.5,86.22 L340.5,86.27 L341.5,86.32 L342.5,86.38 L343.5,86.43 L344.5,86.48 L345.5,86.54 L346.5,86.59 L347.5,86.65 L348.5,86.70 L349.5,86.76 L350.5,86.82 L351.5,86.88 L352.5,86.94 L353.5,87.00 L354.5,87.06 L355.5,87.12 L356.5,87.19 L357.5,87.25 L358.5,87.32 L359.5,87.38 L360.5,87.45 L361.5,87.52 L362.5,87.59 L363.5,87.66 L364.5,87.73 L365.5,87.80 L366.5,87.87 L367.5,87.95 L368.5,88.02 L369.5,88.10 L370.5,88.18 L371.5,88.25 L372.5,88.33 L373.5,88.41 L374.5,88.50 L375.5,88.58 L376.5,88.66 L377.5,88.75 L378.5,88.84 L379.5,88.92 L380.5,89.01 L381.5,89.10 L382.5,89.20 L383.5,89.29 L384.5,89.38 L385.5,89.48 L386.5,89.58 L387.5,89.67 L388.5,89.77 L389.5,89.87 L390.5,89.98 L391.5,90.08 L392.5,90.19 L393.5,90.29 L394.5,90.40 L395.5,90.51 L396.5,90.62 L397.5,90.74 L398.5,90.85 L399.5,90.97 L400.5,91.09 L401.5,91.21 L402.5,91.33 L403.5,91.45 L404.5,91.58 L405.5,91.70 L406.5,91.83 L407.5,91.96 L408.5,92.09 L409.5,92.23 L410.5,92.36 L411.5,92.50 L412.5,92.64 L413.5,92.78 L414.5,92.93 L415.5,93.07 L416.5,93.22 L417.5,93.37 L418.5,93.52 L419.5,93.68 L420.5,93.84 L421.5,93.99 L422.5,94.15 L423.5,94.32 L424.5,94.48 L425.5,94.65 L426.5,94.82 L427.5,94.99 L428.5,95.17 L429.5,95.35 L430.5,95.53 L431.5,95.71 L432.5,95.89 L433.5,96.08 L434.5,96.27 L435.5,96.47 L436.5,96.66 L437.5,96.86 L438.5,97.06 L439.5,97.26 L440.5,97.47 L441.5,97.68 L442.5,97.89 L443.5,98.11 L444.5,98.33 L445.5,98.55 L446.5,98.77 L447.5,99.00 L448.5,99.23 L449.5,99.47 L450.5,99.71 L451.5,99.95 L452.5,100.19 L453.5,100.44 L454.5,100.69 L455.5,100.94 L456.5,101.20 L457.5,101.46 L458.5,101.73 L459.5,102.00 L460.5,102.27 L461.5,102.55 L462.5,102.83 L463.5,103.11 L464.5,103.40 L465.5,103.69 L466.5,103.99 L467.5,104.29 L468.5,104.59 L469.5,104.90 L470.5,105.22 L471.5,105.53 L472.5,105.85 L473.5,106.18 L474.5,106.51 L475.5,106.85 L476.5,107.19 L477.5,107.53 L478.5,107.88 L479.5,108.23 L480.5,108.59 L481.5,108.95 L482.5,109.32 L483.5,109.70 L484.5,110.08 L485.5,110.46 L486.5,110.85 L487.5,111.24 L488.5,111.64 L489.5,112.05 L490.5,112.46 L491.5,112.87 L492.5,113.30 L493.5,113.72 L494.5,114.16 L495.5,114.60 L496.5,115.04 L497.5,115.49 L498.5,115.95 L499.5,116.41 L500.5,116.88 L501.5,117.36 L502.5,117.84 L503.5,118.33 L504.5,118.82 L505.5,119.32 L506.5,119.83 L507.5,120.35 L508.5,120.87 L509.5,121.40 L510.5,121.94 L511.5,122.48 L512.5,123.03 L513.5,123.59 L514.5,124.15 L515.5,124.73 L516.5,125.31 L517.5,125.89 L518.5,126.49 L519.5,127.09 L520.5,127.71 L521.5,128.33 L522.5,128.95 L523.5,129.59 L524.5,130.23 L525.5,130.89 L526.5,131.55 L527.5,132.22 L528.5,132.90 L529.5,133.58 L530.5,134.28 L531.5,134.99 L532.5,135.70 L533.5,136.42 L534.5,137.16 L535.5,137.90 L536.5,138.65 L537.5,139.41 L538.5,140.19 L539.5,140.97 L540.5,141.76 L541.5,142.56 L542.5,143.37 L543.5,144.20 L544.5,145.03 L545.5,145.87 L546.5,146.73 L547.5,147.59 L548.5,148.47 L549.5,149.36 L550.5,150.25 L551.5,151.16 L552.5,152.09 L553.5,153.02 L554.5,153.96 L555.5,154.92 L556.5,155.89 L557.5,156.87 L558.5,157.86 L559.5,158.86 L560.5,159.88 L561.5,160.91 L562.5,161.95 L563.5,163.01 L564.5,164.08 L565.5,165.16 L566.5,166.26 L567.5,167.36 L568.5,168.49 L569.5,169.62 L570.5,170.77 L571.5,171.94 L572.5,173.11 L573.5,174.31 L574.5,175.51 L575.5,176.73 L576.5,177.97 L577.5,179.22 L578.5,180.48 L579.5,181.77 L580.5,183.06 L581.5,184.37 L582.5,185.70 L583.5,187.04 L584.5,188.40 L585.5,189.78 L586.5,191.17 L587.5,192.58 L588.5,194.00 L589.5,195.44 L590.5,196.90 L591.5,198.38 L592.5,199.87 L593.5,201.38 L594.5,202.90 L595.5,204.45 L596.5,206.01 L597.5,207.59 L598.5,209.19 L599.5,210.81 L600.5,212.45 L601.5,214.10 L602.5,215.77 L603.5,217.47 L604.5,219.18 L605.5,220.91 L606.5,222.66 L607.5,224.43 L608.5,226.22 L609.5,228.03 L610.5,229.87 L611.5,231.72 L612.5,233.59 L613.5,235.48 L614.5,237.40 L615.5,239.34 L616.5,241.29 L617.5,243.27 L618.5,245.27 L619.5,247.30 L620.5,249.34 L621.5,251.41 L622.5,253.50 L623.5,255.61 L624.5,257.75 L625.5,259.91 L626.5,262.09 L627.5,264.30 L628.5,266.53 L629.5,268.78 L630.5,271.06 L631.5,273.37 L632.5,275.70 L633.5,278.05 L634.5,280.43 L635.5,282.83 L636.5,285.26 L637.5,287.72 L638.5,290.20 L639.5,292.71 L640.5,295.24 L641.5,297.80 L642.5,300.39 L643.5,303.00 L644.5,305.65 L645.5,308.32 L646.5,311.01 L647.5,313.74 L648.5,316.50 L649.5,319.28 L650.5,322.09 L651.5,324.93 L652.5,327.80 L653.5,330.70 L654.5,333.64 L655.5,336.60 L656.5,339.59 L657.5,342.61 L658.5,345.66 L659.5,348.75 L660.5,351.86 L661.5,355.01 L662.5,358.19 L663.5,361.40 L664.5,364.65 L665.5,367.92 L666.5,371.24 L667.5,374.58 L668.5,377.96 L669.5,381.37 L670.5,384.82 L671.5,388.30 L672.5,391.82 L673.5,395.37 L674.5,398.96 L675.5,402.58 L676.5,406.25 L677.5,409.94 L678.5,413.68 L679.5,417.45 L680.5,421.26 L681.5,425.11 L682.5,429.00 L683.5,432.92 L684.5,436.89 L685.5,440.89 L686.5,444.94 L687.5,449.02 L688.5,453.15 L689.5,457.31 L690.5,461.52 L691.5,465.77 L692.5,470.07 L693.5,474.40 L694.5,478.78 L695.5,483.20 L696.5,487.67 L697.5,492.18 L698.5,496.74 L699.5,501.34 L700.5,505.98 L701.5,510.68 L702.5,515.42 L703.5,520.21 L704.5,525.04 L705.5,529.93 L706.5,534.86 L707.5,539.84" fill="none" stroke="#ff7f0e" stroke-width="2.9" stroke-dasharray="7 6.3" stroke-linejoin="round"/>
<path d="M150.5,82.95 L151.5,82.96 L152.5,82.96 L153.5,82.97 L154.5,82.97 L155.5,82.97 L156.5,82.98 L157.5,82.98 L158.5,82.99 L159.5,82.99 L160.5,82.99 L161.5,83.00 L162.5,83.00 L163.5,83.01 L164.5,83.01 L165.5,83.02 L166.5,83.02 L167.5,83.03 L168.5,83.03 L169.5,83.04 L170.5,83.04 L171.5,83.05 L172.5,83.05 L173.5,83.06 L174.5,83.06 L175.5,83.07 L176.5,83.07 L177.5,83.08 L178.5,83.08 L179.5,83.09 L180.5,83.09 L181.5,83.10 L182.5,83.11 L183.5,83.11 L184.5,83.12 L185.5,83.12 L186.5,83.13 L187.5,83.14 L188.5,83.14 L189.5,83.15 L190.5,83.16 L191.5,83.16 L192.5,83.17 L193.5,83.18 L194.5,83.18 L195.5,83.19 L196.5,83.20 L197.5,83.20 L198.5,83.21 L199.5,83.22 L200.5,83.23 L201.5,83.23 L202.5,83.24 L203.5,83.25 L204.5,83.26 L205.5,83.27 L206.5,83.28 L207.5,83.28 L208.5,83.29 L209.5,83.30 L210.5,83.31 L211.5,83.32 L212.5,83.33 L213.5,83.34 L214.5,83.35 L215.5,83.36 L216.5,83.37 L217.5,83.38 L218.5,83.38 L219.5,83.40 L220.5,83.41 L221.5,83.42 L222.5,83.43 L223.5,83.44 L224.5,83.45 L225.5,83.46 L226.5,83.47 L227.5,83.48 L228.5,83.49 L229.5,83.50 L230.5,83.52 L231.5,83.53 L232.5,83.54 L233.5,83.55 L234.5,83.56 L235.5,83.58 L236.5,83.59 L237.5,83.60 L238.5,83.62 L239.5,83.63 L240.5,83.64 L241.5,83.66 L242.5,83.67 L243.5,83.69 L244.5,83.70 L245.5,83.71 L246.5,83.73 L247.5,83.74 L248.5,83.76 L249.5,83.77 L250.5,83.79 L251.5,83.81 L252.5,83.82 L253.5,83.84 L254.5,83.86 L255.5,83.87 L256.5,83.89 L257.5,83.91 L258.5,83.93 L259.5,83.94 L260.5,83.96 L261.5,83.98 L262.5,84.00 L263.5,84.02 L264.5,84.04 L265.5,84.06 L266.5,84.08 L267.5,84.10 L268.5,84.12 L269.5,84.14 L270.5,84.16 L271.5,84.18 L272.5,84.20 L273.5,84.22 L274.5,84.25 L275.5,84.27 L276.5,84.29 L277.5,84.31 L278.5,84.34 L279.5,84.36 L280.5,84.39 L281.5,84.41 L282.5,84.44 L283.5,84.46 L284.5,84.49 L285.5,84.51 L286.5,84.54 L287.5,84.57 L288.5,84.59 L289.5,84.62 L290.5,84.65 L291.5,84.68 L292.5,84.71 L293.5,84.74 L294.5,84.77 L295.5,84.80 L296.5,84.83 L297.5,84.86 L298.5,84.89 L299.5,84.92 L300.5,84.95 L301.5,84.99 L302.5,85.02 L303.5,85.05 L304.5,85.09 L305.5,85.12 L306.5,85.16 L307.5,85.20 L308.5,85.23 L309.5,85.27 L310.5,85.31 L311.5,85.34 L312.5,85.38 L313.5,85.42 L314.5,85.46 L315.5,85.50 L316.5,85.54 L317.5,85.58 L318.5,85.63 L319.5,85.67 L320.5,85.71 L321.5,85.76 L322.5,85.80 L323.5,85.85 L324.5,85.89 L325.5,85.94 L326.5,85.99 L327.5,86.03 L328.5,86.08 L329.5,86.13 L330.5,86.18 L331.5,86.23 L332.5,86.28 L333.5,86.34 L334.5,86.39 L335.5,86.44 L336.5,86.50 L337.5,86.55 L338.5,86.61 L339.5,86.67 L340.5,86.72 L341.5,86.78 L342.5,86.84 L343.5,86.90 L344.5,86.96 L345.5,87.03 L346.5,87.09 L347.5,87.15 L348.5,87.22 L349.5,87.28 L350.5,87.35 L351.5,87.42 L352.5,87.49 L353.5,87.56 L354.5,87.63 L355.5,87.70 L356.5,87.77 L357.5,87.84 L358.5,87.92 L359.5,87.99 L360.5,88.07 L361.5,88.15 L362.5,88.23 L363.5,88.31 L364.5,88.39 L365.5,88.47 L366.5,88.56 L367.5,88.64 L368.5,88.73 L369.5,88.82 L370.5,88.90 L371.5,88.99 L372.5,89.09 L373.5,89.18 L374.5,89.27 L375.5,89.37 L376.5,89.46 L377.5,89.56 L378.5,89.66 L379.5,89.76 L380.5,89.87 L381.5,89.97 L382.5,90.07 L383.5,90.18 L384.5,90.29 L385.5,90.40 L386.5,90.51 L387.5,90.62 L388.5,90.74 L389.5,90.86 L390.5,90.97 L391.5,91.09 L392.5,91.21 L393.5,91.34 L394.5,91.46 L395.5,91.59 L396.5,91.72 L397.5,91.85 L398.5,91.98 L399.5,92.11 L400.5,92.25 L401.5,92.39 L402.5,92.53 L403.5,92.67 L404.5,92.81 L405.5,92.96 L406.5,93.11 L407.5,93.26 L408.5,93.41 L409.5,93.56 L410.5,93.72 L411.5,93.88 L412.5,94.04 L413.5,94.20 L414.5,94.37 L415.5,94.53 L416.5,94.70 L417.5,94.88 L418.5,95.05 L419.5,95.23 L420.5,95.41 L421.5,95.59 L422.5,95.78 L423.5,95.96 L424.5,96.15 L425.5,96.35 L426.5,96.54 L427.5,96.74 L428.5,96.94 L429.5,97.15 L430.5,97.35 L431.5,97.56 L432.5,97.78 L433.5,97.99 L434.5,98.21 L435.5,98.43 L436.5,98.66 L437.5,98.88 L438.5,99.11 L439.5,99.35 L440.5,99.59 L441.5,99.83 L442.5,100.07 L443.5,100.32 L444.5,100.57 L445.5,100.82 L446.5,101.08 L447.5,101.34 L448.5,101.61 L449.5,101.88 L450.5,102.15 L451.5,102.42 L452.5,102.70 L453.5,102.99 L454.5,103.27 L455.5,103.57 L456.5,103.86 L457.5,104.16 L458.5,104.46 L459.5,104.77 L460.5,105.08 L461.5,105.40 L462.5,105.72 L463.5,106.04 L464.5,106.37 L465.5,106.71 L466.5,107.05 L467.5,107.39 L468.5,107.74 L469.5,108.09 L470.5,108.44 L471.5,108.81 L472.5,109.17 L473.5,109.54 L474.5,109.92 L475.5,110.30 L476.5,110.69 L477.5,111.08 L478.5,111.48 L479.5,111.88 L480.5,112.29 L481.5,112.70 L482.5,113.12 L483.5,113.54 L484.5,113.97 L485.5,114.41 L486.5,114.85 L487.5,115.29 L488.5,115.75 L489.5,116.21 L490.5,116.67 L491.5,117.14 L492.5,117.62 L493.5,118.10 L494.5,118.59 L495.5,119.09 L496.5,119.59 L497.5,120.10 L498.5,120.61 L499.5,121.14 L500.5,121.66 L501.5,122.20 L502.5,122.74 L503.5,123.29 L504.5,123.85 L505.5,124.41 L506.5,124.98 L507.5,125.56 L508.5,126.15 L509.5,126.74 L510.5,127.34 L511.5,127.95 L512.5,128.57 L513.5,129.19 L514.5,129.82 L515.5,130.46 L516.5,131.11 L517.5,131.77 L518.5,132.43 L519.5,133.10 L520.5,133.79 L521.5,134.48 L522.5,135.17 L523.5,135.88 L524.5,136.60 L525.5,137.32 L526.5,138.05 L527.5,138.80 L528.5,139.55 L529.5,140.31 L530.5,141.08 L531.5,141.86 L532.5,142.65 L533.5,143.45 L534.5,144.26 L535.5,145.08 L536.5,145.90 L537.5,146.74 L538.5,147.59 L539.5,148.45 L540.5,149.32 L541.5,150.20 L542.5,151.09 L543.5,151.99 L544.5,152.90 L545.5,153.82 L546.5,154.76 L547.5,155.70 L548.5,156.66 L549.5,157.62 L550.5,158.60 L551.5,159.59 L552.5,160.59 L553.5,161.61 L554.5,162.63 L555.5,163.67 L556.5,164.72 L557.5,165.78 L558.5,166.85 L559.5,167.93 L560.5,169.03 L561.5,170.14 L562.5,171.27 L563.5,172.40 L564.5,173.55 L565.5,174.71 L566.5,175.89 L567.5,177.08 L568.5,178.28 L569.5,179.49 L570.5,180.72 L571.5,181.97 L572.5,183.22 L573.5,184.49 L574.5,185.78 L575.5,187.08 L576.5,188.39 L577.5,189.72 L578.5,191.06 L579.5,192.42 L580.5,193.79 L581.5,195.18 L582.5,196.58 L583.5,198.00 L584.5,199.43 L585.5,200.88 L586.5,202.34 L587.5,203.82 L588.5,205.32 L589.5,206.83 L590.5,208.36 L591.5,209.90 L592.5,211.47 L593.5,213.04 L594.5,214.64 L595.5,216.25 L596.5,217.88 L597.5,219.52 L598.5,221.19 L599.5,222.87 L600.5,224.56 L601.5,226.28 L602.5,228.01 L603.5,229.77 L604.5,231.53 L605.5,233.32 L606.5,235.13 L607.5,236.96 L608.5,238.80 L609.5,240.66 L610.5,242.54 L611.5,244.45 L612.5,246.37 L613.5,248.31 L614.5,250.27 L615.5,252.25 L616.5,254.25 L617.5,256.27 L618.5,258.31 L619.5,260.37 L620.5,262.46 L621.5,264.56 L622.5,266.68 L623.5,268.83 L624.5,271.00 L625.5,273.19 L626.5,275.40 L627.5,277.63 L628.5,279.89 L629.5,282.16 L630.5,284.46 L631.5,286.79 L632.5,289.13 L633.5,291.50 L634.5,293.89 L635.5,296.31 L636.5,298.75 L637.5,301.22 L638.5,303.70 L639.5,306.22 L640.5,308.76 L641.5,311.32 L642.5,313.91 L643.5,316.52 L644.5,319.16 L645.5,321.82 L646.5,324.51 L647.5,327.23 L648.5,329.97 L649.5,332.74 L650.5,335.54 L651.5,338.37 L652.5,341.22 L653.5,344.10 L654.5,347.01 L655.5,349.94 L656.5,352.91 L657.5,355.90 L658.5,358.92 L659.5,361.98 L660.5,365.06 L661.5,368.17 L662.5,371.31 L663.5,374.48 L664.5,377.69 L665.5,380.92 L666.5,384.19 L667.5,387.49 L668.5,390.82 L669.5,394.18 L670.5,397.58 L671.5,401.01 L672.5,404.47 L673.5,407.97 L674.5,411.50 L675.5,415.06 L676.5,418.66 L677.5,422.30 L678.5,425.97 L679.5,429.67 L680.5,433.42 L681.5,437.20 L682.5,441.01 L683.5,444.87 L684.5,448.76 L685.5,452.69 L686.5,456.66 L687.5,460.67 L688.5,464.72 L689.5,468.81 L690.5,472.94 L691.5,477.11 L692.5,481.32 L693.5,485.58 L694.5,489.88 L695.5,494.22 L696.5,498.60 L697.5,503.03 L698.5,507.50 L699.5,512.01 L700.5,516.58 L701.5,521.19 L702.5,525.84 L703.5,530.54 L704.5,535.29 L705.5,540.09" fill="none" stroke="#ff7f0e" stroke-width="2.9" stroke-linejoin="round"/>
<g fill="#2ca02c"><circle cx="150.7" cy="28.0" r="4.3"/><circle cx="300.2" cy="33.0" r="4.3"/><circle cx="369.7" cy="41.2" r="4.3"/><circle cx="415.4" cy="52.0" r="4.3"/><circle cx="449.6" cy="64.2" r="4.3"/><circle cx="476.9" cy="79.4" r="4.3"/><circle cx="499.7" cy="97.0" r="4.3"/><circle cx="519.1" cy="113.2" r="4.3"/><circle cx="536.2" cy="129.8" r="4.3"/><circle cx="551.3" cy="145.8" r="4.3"/><circle cx="564.9" cy="160.6" r="4.3"/><circle cx="577.3" cy="172.7" r="4.3"/><circle cx="588.7" cy="182.2" r="4.3"/><circle cx="599.1" cy="189.4" r="4.3"/><circle cx="608.8" cy="194.0" r="4.3"/><circle cx="617.9" cy="197.6" r="4.3"/><circle cx="626.4" cy="200.0" r="4.3"/><circle cx="634.4" cy="201.5" r="4.3"/><circle cx="642.0" cy="201.5" r="4.3"/><circle cx="649.2" cy="202.5" r="4.3"/><circle cx="656.0" cy="204.8" r="4.3"/><circle cx="662.4" cy="207.3" r="4.3"/><circle cx="668.6" cy="210.5" r="4.3"/><circle cx="674.5" cy="214.6" r="4.3"/><circle cx="680.2" cy="219.6" r="4.3"/><circle cx="685.7" cy="227.8" r="4.3"/><circle cx="690.9" cy="233.6" r="4.3"/><circle cx="695.9" cy="239.7" r="4.3"/><circle cx="700.8" cy="244.8" r="4.3"/><circle cx="705.5" cy="248.7" r="4.3"/><circle cx="710.0" cy="251.0" r="4.3"/><circle cx="714.4" cy="252.1" r="4.3"/><circle cx="718.7" cy="252.9" r="4.3"/><circle cx="722.8" cy="253.5" r="4.3"/><circle cx="726.8" cy="253.5" r="4.3"/><circle cx="730.7" cy="254.2" r="4.3"/><circle cx="734.5" cy="255.3" r="4.3"/><circle cx="738.1" cy="256.9" r="4.3"/><circle cx="741.7" cy="259.3" r="4.3"/><circle cx="745.2" cy="261.9" r="4.3"/><circle cx="748.6" cy="265.5" r="4.3"/><circle cx="751.9" cy="270.0" r="4.3"/><circle cx="755.2" cy="275.4" r="4.3"/><circle cx="758.3" cy="280.2" r="4.3"/><circle cx="761.4" cy="286.0" r="4.3"/><circle cx="764.4" cy="292.5" r="4.3"/><circle cx="767.4" cy="298.6" r="4.3"/><circle cx="770.3" cy="304.3" r="4.3"/><circle cx="773.1" cy="309.9" r="4.3"/><circle cx="775.9" cy="315.3" r="4.3"/><circle cx="778.6" cy="320.9" r="4.3"/><circle cx="781.3" cy="327.1" r="4.3"/><circle cx="783.9" cy="332.9" r="4.3"/><circle cx="786.5" cy="338.8" r="4.3"/><circle cx="789.0" cy="344.6" r="4.3"/><circle cx="791.5" cy="350.3" r="4.3"/><circle cx="793.9" cy="355.7" r="4.3"/><circle cx="796.3" cy="360.1" r="4.3"/><circle cx="798.6" cy="364.0" r="4.3"/><circle cx="800.9" cy="367.7" r="4.3"/><circle cx="803.2" cy="371.4" r="4.3"/><circle cx="805.4" cy="375.0" r="4.3"/><circle cx="807.6" cy="378.6" r="4.3"/><circle cx="809.8" cy="382.4" r="4.3"/><circle cx="811.9" cy="386.4" r="4.3"/><circle cx="814.0" cy="390.5" r="4.3"/><circle cx="816.1" cy="394.7" r="4.3"/><circle cx="818.1" cy="399.2" r="4.3"/><circle cx="820.1" cy="404.0" r="4.3"/><circle cx="822.1" cy="409.1" r="4.3"/><circle cx="824.0" cy="414.8" r="4.3"/><circle cx="825.9" cy="420.1" r="4.3"/></g>
<path d="M150.5,28.34 L151.5,28.34 L152.5,28.35 L153.5,28.36 L154.5,28.36 L155.5,28.37 L156.5,28.38 L157.5,28.38 L158.5,28.39 L159.5,28.40 L160.5,28.40 L161.5,28.41 L162.5,28.42 L163.5,28.42 L164.5,28.43 L165.5,28.44 L166.5,28.45 L167.5,28.45 L168.5,28.46 L169.5,28.47 L170.5,28.48 L171.5,28.48 L172.5,28.49 L173.5,28.50 L174.5,28.51 L175.5,28.52 L176.5,28.52 L177.5,28.53 L178.5,28.54 L179.5,28.55 L180.5,28.56 L181.5,28.57 L182.5,28.58 L183.5,28.59 L184.5,28.60 L185.5,28.61 L186.5,28.62 L187.5,28.63 L188.5,28.64 L189.5,28.65 L190.5,28.66 L191.5,28.67 L192.5,28.68 L193.5,28.69 L194.5,28.70 L195.5,28.71 L196.5,28.72 L197.5,28.73 L198.5,28.74 L199.5,28.75 L200.5,28.77 L201.5,28.78 L202.5,28.79 L203.5,28.80 L204.5,28.82 L205.5,28.83 L206.5,28.84 L207.5,28.85 L208.5,28.87 L209.5,28.88 L210.5,28.89 L211.5,28.91 L212.5,28.92 L213.5,28.94 L214.5,28.95 L215.5,28.96 L216.5,28.98 L217.5,28.99 L218.5,29.01 L219.5,29.02 L220.5,29.04 L221.5,29.05 L222.5,29.07 L223.5,29.09 L224.5,29.10 L225.5,29.12 L226.5,29.14 L227.5,29.15 L228.5,29.17 L229.5,29.19 L230.5,29.21 L231.5,29.22 L232.5,29.24 L233.5,29.26 L234.5,29.28 L235.5,29.30 L236.5,29.32 L237.5,29.34 L238.5,29.36 L239.5,29.38 L240.5,29.40 L241.5,29.42 L242.5,29.44 L243.5,29.46 L244.5,29.48 L245.5,29.50 L246.5,29.53 L247.5,29.55 L248.5,29.57 L249.5,29.59 L250.5,29.62 L251.5,29.64 L252.5,29.66 L253.5,29.69 L254.5,29.71 L255.5,29.74 L256.5,29.76 L257.5,29.79 L258.5,29.82 L259.5,29.84 L260.5,29.87 L261.5,29.90 L262.5,29.92 L263.5,29.95 L264.5,29.98 L265.5,30.01 L266.5,30.04 L267.5,30.07 L268.5,30.10 L269.5,30.13 L270.5,30.16 L271.5,30.19 L272.5,30.22 L273.5,30.25 L274.5,30.29 L275.5,30.32 L276.5,30.35 L277.5,30.39 L278.5,30.42 L279.5,30.46 L280.5,30.49 L281.5,30.53 L282.5,30.56 L283.5,30.60 L284.5,30.64 L285.5,30.68 L286.5,30.71 L287.5,30.75 L288.5,30.79 L289.5,30.83 L290.5,30.87 L291.5,30.91 L292.5,30.96 L293.5,31.00 L294.5,31.04 L295.5,31.08 L296.5,31.13 L297.5,31.17 L298.5,31.22 L299.5,31.26 L300.5,31.31 L301.5,31.36 L302.5,31.41 L303.5,31.45 L304.5,31.50 L305.5,31.55 L306.5,31.60 L307.5,31.65 L308.5,31.71 L309.5,31.76 L310.5,31.81 L311.5,31.87 L312.5,31.92 L313.5,31.98 L314.5,32.03 L315.5,32.09 L316.5,32.15 L317.5,32.21 L318.5,32.27 L319.5,32.33 L320.5,32.39 L321.5,32.45 L322.5,32.52 L323.5,32.58 L324.5,32.64 L325.5,32.71 L326.5,32.78 L327.5,32.84 L328.5,32.91 L329.5,32.98 L330.5,33.05 L331.5,33.12 L332.5,33.20 L333.5,33.27 L334.5,33.34 L335.5,33.42 L336.5,33.50 L337.5,33.57 L338.5,33.65 L339.5,33.73 L340.5,33.81 L341.5,33.89 L342.5,33.98 L343.5,34.06 L344.5,34.15 L345.5,34.23 L346.5,34.32 L347.5,34.41 L348.5,34.50 L349.5,34.59 L350.5,34.69 L351.5,34.78 L352.5,34.88 L353.5,34.97 L354.5,35.07 L355.5,35.17 L356.5,35.27 L357.5,35.37 L358.5,35.48 L359.5,35.58 L360.5,35.69 L361.5,35.80 L362.5,35.91 L363.5,36.02 L364.5,36.13 L365.5,36.24 L366.5,36.36 L367.5,36.48 L368.5,36.60 L369.5,36.72 L370.5,36.84 L371.5,36.96 L372.5,37.09 L373.5,37.22 L374.5,37.34 L375.5,37.48 L376.5,37.61 L377.5,37.74 L378.5,37.88 L379.5,38.02 L380.5,38.16 L381.5,38.30 L382.5,38.44 L383.5,38.59 L384.5,38.74 L385.5,38.89 L386.5,39.04 L387.5,39.20 L388.5,39.35 L389.5,39.51 L390.5,39.67 L391.5,39.84 L392.5,40.00 L393.5,40.17 L394.5,40.34 L395.5,40.51 L396.5,40.69 L397.5,40.86 L398.5,41.04 L399.5,41.22 L400.5,41.41 L401.5,41.60 L402.5,41.79 L403.5,41.98 L404.5,42.17 L405.5,42.37 L406.5,42.57 L407.5,42.78 L408.5,42.98 L409.5,43.19 L410.5,43.40 L411.5,43.62 L412.5,43.83 L413.5,44.05 L414.5,44.28 L415.5,44.50 L416.5,44.73 L417.5,44.97 L418.5,45.20 L419.5,45.44 L420.5,45.69 L421.5,45.93 L422.5,46.18 L423.5,46.43 L424.5,46.69 L425.5,46.95 L426.5,47.21 L427.5,47.48 L428.5,47.75 L429.5,48.03 L430.5,48.30 L431.5,48.58 L432.5,48.87 L433.5,49.16 L434.5,49.45 L435.5,49.75 L436.5,50.05 L437.5,50.36 L438.5,50.67 L439.5,50.98 L440.5,51.30 L441.5,51.62 L442.5,51.95 L443.5,52.28 L444.5,52.62 L445.5,52.96 L446.5,53.30 L447.5,53.65 L448.5,54.01 L449.5,54.37 L450.5,54.73 L451.5,55.10 L452.5,55.48 L453.5,55.86 L454.5,56.24 L455.5,56.63 L456.5,57.03 L457.5,57.43 L458.5,57.83 L459.5,58.24 L460.5,58.66 L461.5,59.08 L462.5,59.51 L463.5,59.94 L464.5,60.38 L465.5,60.83 L466.5,61.28 L467.5,61.74 L468.5,62.20 L469.5,62.67 L470.5,63.15 L471.5,63.63 L472.5,64.12 L473.5,64.62 L474.5,65.12 L475.5,65.63 L476.5,66.14 L477.5,66.66 L478.5,67.19 L479.5,67.73 L480.5,68.27 L481.5,68.83 L482.5,69.38 L483.5,69.95 L484.5,70.52 L485.5,71.10 L486.5,71.69 L487.5,72.29 L488.5,72.89 L489.5,73.50 L490.5,74.12 L491.5,74.75 L492.5,75.39 L493.5,76.03 L494.5,76.69 L495.5,77.35 L496.5,78.02 L497.5,78.70 L498.5,79.39 L499.5,80.08 L500.5,80.79 L501.5,81.50 L502.5,82.23 L503.5,82.96 L504.5,83.71 L505.5,84.46 L506.5,85.22 L507.5,86.00 L508.5,86.78 L509.5,87.57 L510.5,88.37 L511.5,89.19 L512.5,90.01 L513.5,90.85 L514.5,91.69 L515.5,92.55 L516.5,93.41 L517.5,94.29 L518.5,95.18 L519.5,96.08 L520.5,96.99 L521.5,97.92 L522.5,98.85 L523.5,99.80 L524.5,100.76 L525.5,101.73 L526.5,102.71 L527.5,103.71 L528.5,104.72 L529.5,105.74 L530.5,106.77 L531.5,107.82 L532.5,108.88 L533.5,109.95 L534.5,111.04 L535.5,112.14 L536.5,113.25 L537.5,114.38 L538.5,115.52 L539.5,116.68 L540.5,117.84 L541.5,119.03 L542.5,120.23 L543.5,121.44 L544.5,122.67 L545.5,123.91 L546.5,125.17 L547.5,126.44 L548.5,127.73 L549.5,129.03 L550.5,130.35 L551.5,131.69 L552.5,133.04 L553.5,134.41 L554.5,135.79 L555.5,137.20 L556.5,138.61 L557.5,140.05 L558.5,141.50 L559.5,142.97 L560.5,144.46 L561.5,145.96 L562.5,147.48 L563.5,149.02 L564.5,150.58 L565.5,152.15 L566.5,153.75 L567.5,155.36 L568.5,156.99 L569.5,158.64 L570.5,160.31 L571.5,162.00 L572.5,163.71 L573.5,165.44 L574.5,167.19 L575.5,168.95 L576.5,170.74 L577.5,172.55 L578.5,174.38 L579.5,176.23 L580.5,178.10 L581.5,179.99 L582.5,181.90 L583.5,183.83 L584.5,185.79 L585.5,187.76 L586.5,189.76 L587.5,191.78 L588.5,193.83 L589.5,195.89 L590.5,197.98 L591.5,200.09 L592.5,202.23 L593.5,204.39 L594.5,206.57 L595.5,208.77 L596.5,211.00 L597.5,213.25 L598.5,215.53 L599.5,217.83 L600.5,220.15 L601.5,222.50 L602.5,224.88 L603.5,227.28 L604.5,229.70 L605.5,232.15 L606.5,234.63 L607.5,237.13 L608.5,239.66 L609.5,242.22 L610.5,244.80 L611.5,247.40 L612.5,250.04 L613.5,252.70 L614.5,255.39 L615.5,258.10 L616.5,260.85 L617.5,263.62 L618.5,266.42 L619.5,269.24 L620.5,272.10 L621.5,274.98 L622.5,277.90 L623.5,280.84 L624.5,283.81 L625.5,286.81 L626.5,289.84 L627.5,292.90 L628.5,295.99 L629.5,299.11 L630.5,302.25 L631.5,305.43 L632.5,308.65 L633.5,311.89 L634.5,315.16 L635.5,318.46 L636.5,321.80 L637.5,325.16 L638.5,328.56 L639.5,331.99 L640.5,335.45 L641.5,338.95 L642.5,342.48 L643.5,346.04 L644.5,349.63 L645.5,353.26 L646.5,356.92 L647.5,360.61 L648.5,364.34 L649.5,368.10 L650.5,371.90 L651.5,375.73 L652.5,379.59 L653.5,383.49 L654.5,387.43 L655.5,391.40 L656.5,395.40 L657.5,399.44 L658.5,403.52 L659.5,407.63 L660.5,411.78 L661.5,415.97 L662.5,420.19 L663.5,424.45 L664.5,428.75 L665.5,433.08 L666.5,437.46 L667.5,441.87 L668.5,446.31 L669.5,450.80 L670.5,455.32 L671.5,459.89 L672.5,464.49 L673.5,469.13 L674.5,473.81 L675.5,478.53 L676.5,483.30 L677.5,488.10 L678.5,492.94 L679.5,497.82 L680.5,502.74 L681.5,507.71 L682.5,512.71 L683.5,517.76 L684.5,522.85 L685.5,527.98 L686.5,533.16 L687.5,538.37" fill="none" stroke="#2ca02c" stroke-width="2.9" stroke-dasharray="7 6.3" stroke-linejoin="round"/>
<path d="M150.5,28.40 L151.5,28.41 L152.5,28.42 L153.5,28.43 L154.5,28.43 L155.5,28.44 L156.5,28.45 L157.5,28.46 L158.5,28.46 L159.5,28.47 L160.5,28.48 L161.5,28.49 L162.5,28.50 L163.5,28.51 L164.5,28.51 L165.5,28.52 L166.5,28.53 L167.5,28.54 L168.5,28.55 L169.5,28.56 L170.5,28.57 L171.5,28.58 L172.5,28.59 L173.5,28.60 L174.5,28.61 L175.5,28.62 L176.5,28.63 L177.5,28.64 L178.5,28.65 L179.5,28.66 L180.5,28.67 L181.5,28.68 L182.5,28.69 L183.5,28.70 L184.5,28.71 L185.5,28.73 L186.5,28.74 L187.5,28.75 L188.5,28.76 L189.5,28.77 L190.5,28.79 L191.5,28.80 L192.5,28.81 L193.5,28.82 L194.5,28.84 L195.5,28.85 L196.5,28.86 L197.5,28.88 L198.5,28.89 L199.5,28.91 L200.5,28.92 L201.5,28.93 L202.5,28.95 L203.5,28.96 L204.5,28.98 L205.5,28.99 L206.5,29.01 L207.5,29.03 L208.5,29.04 L209.5,29.06 L210.5,29.07 L211.5,29.09 L212.5,29.11 L213.5,29.13 L214.5,29.14 L215.5,29.16 L216.5,29.18 L217.5,29.20 L218.5,29.22 L219.5,29.23 L220.5,29.25 L221.5,29.27 L222.5,29.29 L223.5,29.31 L224.5,29.33 L225.5,29.35 L226.5,29.37 L227.5,29.39 L228.5,29.41 L229.5,29.44 L230.5,29.46 L231.5,29.48 L232.5,29.50 L233.5,29.52 L234.5,29.55 L235.5,29.57 L236.5,29.60 L237.5,29.62 L238.5,29.64 L239.5,29.67 L240.5,29.69 L241.5,29.72 L242.5,29.74 L243.5,29.77 L244.5,29.80 L245.5,29.82 L246.5,29.85 L247.5,29.88 L248.5,29.91 L249.5,29.94 L250.5,29.96 L251.5,29.99 L252.5,30.02 L253.5,30.05 L254.5,30.08 L255.5,30.12 L256.5,30.15 L257.5,30.18 L258.5,30.21 L259.5,30.24 L260.5,30.28 L261.5,30.31 L262.5,30.35 L263.5,30.38 L264.5,30.42 L265.5,30.45 L266.5,30.49 L267.5,30.52 L268.5,30.56 L269.5,30.60 L270.5,30.64 L271.5,30.68 L272.5,30.72 L273.5,30.76 L274.5,30.80 L275.5,30.84 L276.5,30.88 L277.5,30.92 L278.5,30.96 L279.5,31.01 L280.5,31.05 L281.5,31.10 L282.5,31.14 L283.5,31.19 L284.5,31.23 L285.5,31.28 L286.5,31.33 L287.5,31.38 L288.5,31.43 L289.5,31.48 L290.5,31.53 L291.5,31.58 L292.5,31.63 L293.5,31.68 L294.5,31.74 L295.5,31.79 L296.5,31.85 L297.5,31.90 L298.5,31.96 L299.5,32.02 L300.5,32.08 L301.5,32.14 L302.5,32.20 L303.5,32.26 L304.5,32.32 L305.5,32.38 L306.5,32.44 L307.5,32.51 L308.5,32.57 L309.5,32.64 L310.5,32.71 L311.5,32.78 L312.5,32.84 L313.5,32.91 L314.5,32.99 L315.5,33.06 L316.5,33.13 L317.5,33.20 L318.5,33.28 L319.5,33.36 L320.5,33.43 L321.5,33.51 L322.5,33.59 L323.5,33.67 L324.5,33.75 L325.5,33.84 L326.5,33.92 L327.5,34.00 L328.5,34.09 L329.5,34.18 L330.5,34.27 L331.5,34.36 L332.5,34.45 L333.5,34.54 L334.5,34.63 L335.5,34.73 L336.5,34.83 L337.5,34.92 L338.5,35.02 L339.5,35.12 L340.5,35.23 L341.5,35.33 L342.5,35.43 L343.5,35.54 L344.5,35.65 L345.5,35.76 L346.5,35.87 L347.5,35.98 L348.5,36.09 L349.5,36.21 L350.5,36.33 L351.5,36.45 L352.5,36.57 L353.5,36.69 L354.5,36.81 L355.5,36.94 L356.5,37.07 L357.5,37.19 L358.5,37.33 L359.5,37.46 L360.5,37.59 L361.5,37.73 L362.5,37.87 L363.5,38.01 L364.5,38.15 L365.5,38.29 L366.5,38.44 L367.5,38.59 L368.5,38.74 L369.5,38.89 L370.5,39.04 L371.5,39.20 L372.5,39.36 L373.5,39.52 L374.5,39.68 L375.5,39.85 L376.5,40.02 L377.5,40.19 L378.5,40.36 L379.5,40.53 L380.5,40.71 L381.5,40.89 L382.5,41.07 L383.5,41.26 L384.5,41.44 L385.5,41.63 L386.5,41.82 L387.5,42.02 L388.5,42.22 L389.5,42.42 L390.5,42.62 L391.5,42.83 L392.5,43.03 L393.5,43.25 L394.5,43.46 L395.5,43.68 L396.5,43.90 L397.5,44.12 L398.5,44.35 L399.5,44.57 L400.5,44.81 L401.5,45.04 L402.5,45.28 L403.5,45.52 L404.5,45.77 L405.5,46.02 L406.5,46.27 L407.5,46.52 L408.5,46.78 L409.5,47.04 L410.5,47.31 L411.5,47.58 L412.5,47.85 L413.5,48.13 L414.5,48.41 L415.5,48.69 L416.5,48.98 L417.5,49.27 L418.5,49.57 L419.5,49.87 L420.5,50.17 L421.5,50.48 L422.5,50.79 L423.5,51.10 L424.5,51.42 L425.5,51.75 L426.5,52.08 L427.5,52.41 L428.5,52.75 L429.5,53.09 L430.5,53.43 L431.5,53.78 L432.5,54.14 L433.5,54.50 L434.5,54.86 L435.5,55.23 L436.5,55.61 L437.5,55.99 L438.5,56.37 L439.5,56.76 L440.5,57.15 L441.5,57.55 L442.5,57.96 L443.5,58.37 L444.5,58.78 L445.5,59.20 L446.5,59.63 L447.5,60.06 L448.5,60.50 L449.5,60.94 L450.5,61.39 L451.5,61.85 L452.5,62.31 L453.5,62.77 L454.5,63.24 L455.5,63.72 L456.5,64.21 L457.5,64.70 L458.5,65.19 L459.5,65.70 L460.5,66.20 L461.5,66.72 L462.5,67.24 L463.5,67.77 L464.5,68.31 L465.5,68.85 L466.5,69.40 L467.5,69.95 L468.5,70.52 L469.5,71.09 L470.5,71.66 L471.5,72.25 L472.5,72.84 L473.5,73.44 L474.5,74.05 L475.5,74.66 L476.5,75.28 L477.5,75.91 L478.5,76.55 L479.5,77.19 L480.5,77.84 L481.5,78.51 L482.5,79.17 L483.5,79.85 L484.5,80.54 L485.5,81.23 L486.5,81.93 L487.5,82.64 L488.5,83.36 L489.5,84.09 L490.5,84.82 L491.5,85.57 L492.5,86.32 L493.5,87.09 L494.5,87.86 L495.5,88.64 L496.5,89.43 L497.5,90.23 L498.5,91.04 L499.5,91.86 L500.5,92.69 L501.5,93.53 L502.5,94.38 L503.5,95.23 L504.5,96.10 L505.5,96.98 L506.5,97.87 L507.5,98.77 L508.5,99.68 L509.5,100.60 L510.5,101.53 L511.5,102.47 L512.5,103.42 L513.5,104.38 L514.5,105.36 L515.5,106.34 L516.5,107.34 L517.5,108.34 L518.5,109.36 L519.5,110.39 L520.5,111.43 L521.5,112.49 L522.5,113.55 L523.5,114.63 L524.5,115.72 L525.5,116.82 L526.5,117.93 L527.5,119.06 L528.5,120.20 L529.5,121.35 L530.5,122.51 L531.5,123.69 L532.5,124.88 L533.5,126.08 L534.5,127.29 L535.5,128.52 L536.5,129.76 L537.5,131.02 L538.5,132.28 L539.5,133.56 L540.5,134.86 L541.5,136.17 L542.5,137.49 L543.5,138.83 L544.5,140.18 L545.5,141.55 L546.5,142.93 L547.5,144.32 L548.5,145.73 L549.5,147.15 L550.5,148.59 L551.5,150.04 L552.5,151.51 L553.5,153.00 L554.5,154.49 L555.5,156.01 L556.5,157.54 L557.5,159.08 L558.5,160.65 L559.5,162.22 L560.5,163.82 L561.5,165.42 L562.5,167.05 L563.5,168.69 L564.5,170.35 L565.5,172.03 L566.5,173.72 L567.5,175.43 L568.5,177.15 L569.5,178.90 L570.5,180.66 L571.5,182.43 L572.5,184.23 L573.5,186.04 L574.5,187.87 L575.5,189.72 L576.5,191.59 L577.5,193.47 L578.5,195.38 L579.5,197.30 L580.5,199.24 L581.5,201.20 L582.5,203.18 L583.5,205.17 L584.5,207.19 L585.5,209.22 L586.5,211.28 L587.5,213.35 L588.5,215.45 L589.5,217.56 L590.5,219.70 L591.5,221.85 L592.5,224.03 L593.5,226.23 L594.5,228.44 L595.5,230.68 L596.5,232.94 L597.5,235.22 L598.5,237.52 L599.5,239.84 L600.5,242.19 L601.5,244.56 L602.5,246.94 L603.5,249.36 L604.5,251.79 L605.5,254.25 L606.5,256.72 L607.5,259.23 L608.5,261.75 L609.5,264.30 L610.5,266.87 L611.5,269.47 L612.5,272.09 L613.5,274.73 L614.5,277.40 L615.5,280.09 L616.5,282.81 L617.5,285.55 L618.5,288.32 L619.5,291.11 L620.5,293.93 L621.5,296.78 L622.5,299.65 L623.5,302.55 L624.5,305.47 L625.5,308.42 L626.5,311.40 L627.5,314.40 L628.5,317.43 L629.5,320.49 L630.5,323.58 L631.5,326.70 L632.5,329.84 L633.5,333.01 L634.5,336.22 L635.5,339.45 L636.5,342.71 L637.5,346.00 L638.5,349.32 L639.5,352.67 L640.5,356.05 L641.5,359.46 L642.5,362.91 L643.5,366.38 L644.5,369.89 L645.5,373.43 L646.5,377.00 L647.5,380.61 L648.5,384.25 L649.5,387.92 L650.5,391.62 L651.5,395.36 L652.5,399.13 L653.5,402.94 L654.5,406.79 L655.5,410.67 L656.5,414.58 L657.5,418.53 L658.5,422.52 L659.5,426.54 L660.5,430.61 L661.5,434.71 L662.5,438.84 L663.5,443.02 L664.5,447.24 L665.5,451.49 L666.5,455.79 L667.5,460.12 L668.5,464.50 L669.5,468.91 L670.5,473.37 L671.5,477.87 L672.5,482.41 L673.5,487.00 L674.5,491.63 L675.5,496.30 L676.5,501.02 L677.5,505.78 L678.5,510.59 L679.5,515.44 L680.5,520.34 L681.5,525.29 L682.5,530.28 L683.5,535.32" fill="none" stroke="#2ca02c" stroke-width="2.9" stroke-linejoin="round"/>
</g>
<rect x="119.5" y="4.7" width="706.0" height="529.5999999999999" fill="none" stroke="#808080" stroke-width="1.1"/>
<path d="M228.7,534.3 v-7.2 M228.7,4.7 v7.2 M322.9,534.3 v-7.2 M322.9,4.7 v7.2 M541.7,534.3 v-7.2 M541.7,4.7 v7.2 M635.9,534.3 v-7.2 M635.9,4.7 v7.2 M159.2,534.3 v-5.6 M159.2,4.7 v5.6 M198.3,534.3 v-5.6 M198.3,4.7 v5.6 M253.5,534.3 v-5.6 M253.5,4.7 v5.6 M274.4,534.3 v-5.6 M274.4,4.7 v5.6 M292.6,534.3 v-5.6 M292.6,4.7 v5.6 M308.6,534.3 v-5.6 M308.6,4.7 v5.6 M417.1,534.3 v-5.6 M417.1,4.7 v5.6 M472.2,534.3 v-5.6 M472.2,4.7 v5.6 M511.3,534.3 v-5.6 M511.3,4.7 v5.6 M566.5,534.3 v-5.6 M566.5,4.7 v5.6 M587.4,534.3 v-5.6 M587.4,4.7 v5.6 M605.6,534.3 v-5.6 M605.6,4.7 v5.6 M621.6,534.3 v-5.6 M621.6,4.7 v5.6 M730.1,534.3 v-5.6 M730.1,4.7 v5.6 M785.2,534.3 v-5.6 M785.2,4.7 v5.6 M824.3,534.3 v-5.6 M824.3,4.7 v5.6 M119.5,489.4 h7.2 M825.5,489.4 h-7.2 M119.5,354.4 h7.2 M825.5,354.4 h-7.2 M119.5,219.4 h7.2 M825.5,219.4 h-7.2 M119.5,84.4 h7.2 M825.5,84.4 h-7.2 M119.5,530.0 h5.6 M825.5,530.0 h-5.6 M119.5,519.3 h5.6 M825.5,519.3 h-5.6 M119.5,510.3 h5.6 M825.5,510.3 h-5.6 M119.5,502.5 h5.6 M825.5,502.5 h-5.6 M119.5,495.6 h5.6 M825.5,495.6 h-5.6 M119.5,448.8 h5.6 M825.5,448.8 h-5.6 M119.5,425.0 h5.6 M825.5,425.0 h-5.6 M119.5,408.1 h5.6 M825.5,408.1 h-5.6 M119.5,395.0 h5.6 M825.5,395.0 h-5.6 M119.5,384.3 h5.6 M825.5,384.3 h-5.6 M119.5,375.3 h5.6 M825.5,375.3 h-5.6 M119.5,367.5 h5.6 M825.5,367.5 h-5.6 M119.5,360.6 h5.6 M825.5,360.6 h-5.6 M119.5,313.8 h5.6 M825.5,313.8 h-5.6 M119.5,290.0 h5.6 M825.5,290.0 h-5.6 M119.5,273.1 h5.6 M825.5,273.1 h-5.6 M119.5,260.0 h5.6 M825.5,260.0 h-5.6 M119.5,249.3 h5.6 M825.5,249.3 h-5.6 M119.5,240.3 h5.6 M825.5,240.3 h-5.6 M119.5,232.5 h5.6 M825.5,232.5 h-5.6 M119.5,225.6 h5.6 M825.5,225.6 h-5.6 M119.5,178.8 h5.6 M825.5,178.8 h-5.6 M119.5,155.0 h5.6 M825.5,155.0 h-5.6 M119.5,138.1 h5.6 M825.5,138.1 h-5.6 M119.5,125.0 h5.6 M825.5,125.0 h-5.6 M119.5,114.3 h5.6 M825.5,114.3 h-5.6 M119.5,105.3 h5.6 M825.5,105.3 h-5.6 M119.5,97.5 h5.6 M825.5,97.5 h-5.6 M119.5,90.6 h5.6 M825.5,90.6 h-5.6 M119.5,43.8 h5.6 M825.5,43.8 h-5.6 M119.5,20.0 h5.6 M825.5,20.0 h-5.6" fill="none" stroke="#666" stroke-width="1"/>
<text x="114.5" y="96.2" font-size="33" text-anchor="end">100</text>
<text x="114.5" y="231.2" font-size="33" text-anchor="end">10</text>
<text x="114.5" y="366.2" font-size="33" text-anchor="end">1</text>
<text x="114.5" y="501.2" font-size="33" text-anchor="end">0.1</text>
<text x="228.7" y="568.7" font-size="33" text-anchor="middle">0.05</text>
<text x="322.9" y="568.7" font-size="33" text-anchor="middle">0.10</text>
<text x="541.7" y="568.7" font-size="33" text-anchor="middle">0.50</text>
<text x="635.9" y="568.7" font-size="33" text-anchor="middle">1</text>
<rect x="136.7" y="199.6" width="382.3" height="319.7" rx="6.5" ry="6.5" fill="#fff" stroke="#d9d9d9" stroke-width="2.6"/>
<circle cx="169.3" cy="245.7" r="8.3" fill="#000"/>
<path d="M152.6,292.7 H185.6" stroke="#000" stroke-width="3"/>
<path d="M153.8,340.9 H161.1 M167.4,340.9 H174 M180,340.9 H185.3" stroke="#000" stroke-width="3"/>
<rect x="152.5" y="376.1" width="33.1" height="21.1" fill="#1f77b4"/>
<rect x="152.5" y="423.1" width="33.1" height="21.1" fill="#ff7f0e"/>
<rect x="152.5" y="470.7" width="33.1" height="21.1" fill="#2ca02c"/>
<text x="207.1" y="252.8" font-size="33" textLength="155" lengthAdjust="spacingAndGlyphs">Simulations</text>
<text x="207.1" y="299.2" font-size="33" textLength="105.6" lengthAdjust="spacingAndGlyphs">Solitons</text>
<text x="322.4" y="299.2" font-size="33">(</text>
<text x="332.8" y="300.0" font-size="36" font-style="italic">ξ</text>
<text x="357.4" y="303.09999999999997" font-size="33" textLength="25.6" lengthAdjust="spacingAndGlyphs">=</text>
<text x="207.1" y="346.5" font-size="33" textLength="105.6" lengthAdjust="spacingAndGlyphs">Solitons</text>
<text x="322.4" y="346.5" font-size="33">(</text>
<text x="332.8" y="347.3" font-size="36" font-style="italic">ξ</text>
<text x="357.4" y="350.4" font-size="33" textLength="25.6" lengthAdjust="spacingAndGlyphs">=</text>
<text x="391.7" y="303.09999999999997" font-size="33" textLength="26.4" lengthAdjust="spacingAndGlyphs">−</text>
<text x="417.4" y="299.2" font-size="32.5" textLength="71.0" lengthAdjust="spacingAndGlyphs">0.008</text>
<text x="487.3" y="299.2" font-size="33">)</text>
<text x="391.4" y="346.7" font-size="32.5">0</text>
<text x="407.1" y="346.5" font-size="33">)</text>
<text x="207.5" y="393.0" font-size="33" font-style="italic">t</text>
<text x="227.8" y="396.9" font-size="33" textLength="25.6" lengthAdjust="spacingAndGlyphs">=</text>
<text x="261.0" y="393.0" font-size="32.5">9</text>
<text x="207.5" y="440.1" font-size="33" font-style="italic">t</text>
<text x="227.8" y="444.0" font-size="33" textLength="25.6" lengthAdjust="spacingAndGlyphs">=</text>
<text x="261.0" y="440.1" font-size="32.5">11</text>
<text x="207.5" y="487.9" font-size="33" font-style="italic">t</text>
<text x="227.8" y="491.79999999999995" font-size="33" textLength="25.6" lengthAdjust="spacingAndGlyphs">=</text>
<text x="261.0" y="487.9" font-size="32.5">13</text>
<path d="M0,3.4 C2.2,-1.0 5.6,-1.4 9.2,0.7 C12.6,2.7 15.8,2.3 18.3,-1.4" transform="translate(335.5,268.6)" fill="none" stroke="#000" stroke-width="1.5" stroke-linecap="round"/>
<path d="M0,3.4 C2.2,-1.0 5.6,-1.4 9.2,0.7 C12.6,2.7 15.8,2.3 18.3,-1.4" transform="translate(335.5,315.8)" fill="none" stroke="#000" stroke-width="1.5" stroke-linecap="round"/>
<path d="M0,3.4 C2.2,-1.0 5.6,-1.4 9.2,0.7 C12.6,2.7 15.8,2.3 18.3,-1.4" transform="translate(207.0,364.1)" fill="none" stroke="#000" stroke-width="1.5" stroke-linecap="round"/>
<path d="M0,3.4 C2.2,-1.0 5.6,-1.4 9.2,0.7 C12.6,2.7 15.8,2.3 18.3,-1.4" transform="translate(207.0,411.2)" fill="none" stroke="#000" stroke-width="1.5" stroke-linecap="round"/>
<path d="M0,3.4 C2.2,-1.0 5.6,-1.4 9.2,0.7 C12.6,2.7 15.8,2.3 18.3,-1.4" transform="translate(207.0,459.0)" fill="none" stroke="#000" stroke-width="1.5" stroke-linecap="round"/>
<text x="462.6" y="624.2" font-size="40.5" font-style="italic">r</text>
<path d="M0,3 C2.5,-1.2 6.5,-1.6 11,0.6 C15,2.6 19,2.2 22.5,-1.6" transform="translate(463.4,596.3) scale(1,0.82)" fill="none" stroke="#000" stroke-width="1.6" stroke-linecap="round"/>
<g transform="translate(45,278.5) rotate(-90)"><text x="0" y="-8" font-size="43" font-style="italic">ρ</text><path d="M0,3 C2.5,-1.2 6.5,-1.6 11,0.6 C15,2.6 19,2.2 22.5,-1.6" transform="translate(2.6,-36.6) scale(0.93,0.85)" fill="none" stroke="#000" stroke-width="1.6" stroke-linecap="round"/></g>
</svg>
</body></html>
